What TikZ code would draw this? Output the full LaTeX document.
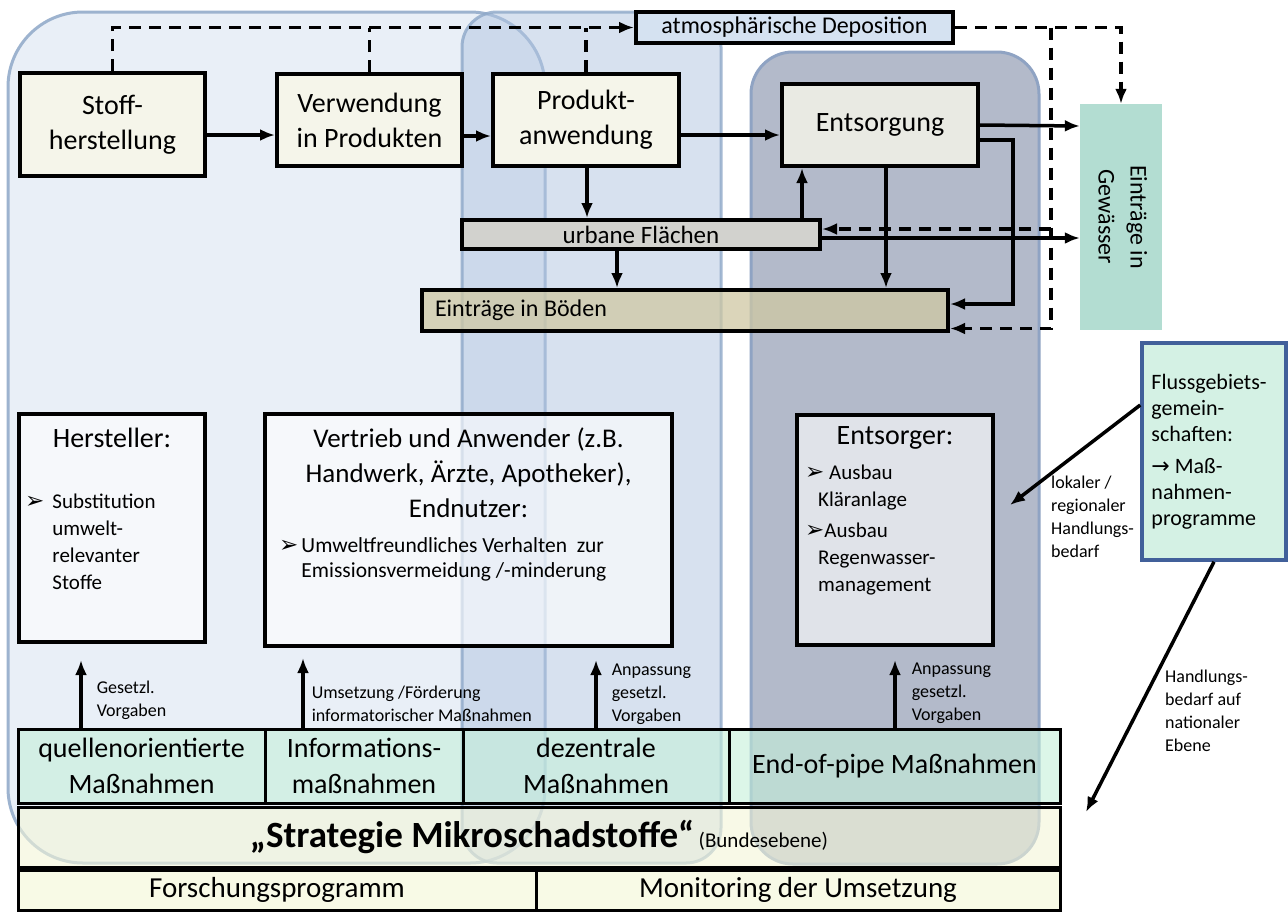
\documentclass[tikz,border=0pt]{standalone}
\usepackage{fontspec}
\usepackage{graphicx}
\setmainfont{Carlito}
\newfontfamily\symfont{DejaVu Sans}
\usetikzlibrary{arrows.meta}

\definecolor{regionleft}{HTML}{E9EFF7}
\definecolor{regionleftline}{HTML}{9DB3CF}
\definecolor{regionmid}{HTML}{B1C5E1}
\definecolor{regionmidline}{HTML}{8EA8C8}
\definecolor{regiondark}{HTML}{B3BACA}
\definecolor{regiondarkline}{HTML}{8FA3C3}
\definecolor{flowfill}{HTML}{F5F5EA}
\definecolor{disposalfill}{HTML}{E9EAE3}
\definecolor{depofill}{HTML}{D5E2F1}
\definecolor{urbanfill}{HTML}{D2D2CE}
\definecolor{soilfill}{HTML}{CFC8A3}
\definecolor{waterfill}{HTML}{B3DDD2}
\definecolor{riverfill}{HTML}{D4F1E4}
\definecolor{riverline}{HTML}{41609A}
\definecolor{measurefill}{HTML}{C5F0DA}
\definecolor{strategyfill}{HTML}{F4F6D8}
\definecolor{basefill}{HTML}{F8FAE6}

\newcommand{\arrowbullet}{{\symfont\fontsize{23}{23}\selectfont ➢}}

\tikzset{
  region/.style={line width=3pt, rounded corners=#1},
  flowbox/.style={draw, line width=4pt, fill=flowfill, align=center, inner sep=0pt, font=\fontsize{28}{35}\selectfont},
  barbox/.style={draw, line width=4pt, inner sep=0pt, font=\fontsize{24}{28}\selectfont},
  actorbox/.style={draw, line width=4pt, fill=white, fill opacity=0.6, inner sep=0pt},
  cell/.style={draw, line width=3pt, align=center, inner sep=0pt, text opacity=1, font=\fontsize{28}{36}\selectfont},
  flow/.style={line width=3.5pt, -{Latex[length=15pt,width=12pt]}},
  dashflow/.style={flow, dash pattern=on 12pt off 8pt},
  dashline/.style={line width=3.5pt, dash pattern=on 12pt off 8pt},
  smalllabel/.style={font=\fontsize{18}{23}\selectfont, align=left, inner sep=0pt},
  bullettext/.style={font=\fontsize{21}{27}\selectfont, align=left, inner sep=0pt},
  boxtitle/.style={font=\fontsize{28}{35}\selectfont, align=center, inner sep=0pt}
}

\begin{document}
\begin{tikzpicture}[x=1pt,y=-1pt]
  \fill[white] (0,0) rectangle (1288,911);
  \useasboundingbox (0,0) rectangle (1288,911);

  % background regions
  \draw[region=75pt, draw=regionleftline, fill=regionleft] (8,12) rectangle (545,863);
  \draw[region=35pt, draw=regionmidline, fill=regionmid, fill opacity=0.5, draw opacity=0.8] (462,12) rectangle (721,863);
  \draw[region=42pt, draw=regiondarkline, fill=regiondark] (751,52) rectangle (1039,864);

  % strategy rows
  \node[cell, fill=measurefill, fill opacity=0.6, minimum width=247pt, minimum height=74pt] (quell) at (141.5,766) {quellenorientierte\\Maßnahmen};
  \node[cell, fill=measurefill, fill opacity=0.6, minimum width=198pt, minimum height=74pt] (info) at (364,766) {Informations-\\maßnahmen};
  \node[cell, fill=measurefill, fill opacity=0.6, minimum width=266pt, minimum height=74pt] (dezen) at (596,766) {dezentrale\\Maßnahmen};
  \node[cell, fill=measurefill, fill opacity=0.6, minimum width=331pt, minimum height=74pt] (eop) at (894.5,766) {End-of-pipe Maßnahmen};
  \node[cell, fill=strategyfill, fill opacity=0.6, minimum width=1042pt, minimum height=60pt] (strat) at (539,837)
    {{\fontsize{37}{40}\selectfont\bfseries „Strategie Mikroschadstoffe“}\,{\fontsize{21}{24}\selectfont(Bundesebene)}};
  \node[cell, fill=basefill, minimum width=518pt, minimum height=40pt, font=\fontsize{29}{32}\selectfont] (forsch) at (277,890) {Forschungsprogramm};
  \node[cell, fill=basefill, minimum width=524pt, minimum height=40pt, font=\fontsize{29}{32}\selectfont] (monit) at (798,890) {Monitoring der Umsetzung};

  % actors
  \node[actorbox, minimum width=186pt, minimum height=228pt] (herst) at (112,528) {};
  \node[boxtitle] at ([yshift=-26pt]herst.north) {Hersteller:};
  \node[bullettext, anchor=west] at ([xshift=8pt,yshift=-16pt]herst.west)
    {\begin{tabular}{@{}l@{\hspace{8pt}}l@{}}\arrowbullet & Substitution\\ & umwelt-\\ & relevanter\\ & Stoffe\end{tabular}};

  \node[actorbox, minimum width=407pt, minimum height=232pt] (vertr) at (468.5,530) {};
  \node[boxtitle, font=\fontsize{27}{35}\selectfont] at ([yshift=-61pt]vertr.north) {Vertrieb und Anwender (z.B.\\Handwerk, Ärzte, Apotheker),\\Endnutzer:};
  \node[bullettext, anchor=west, font=\fontsize{21.5}{25}\selectfont] at ([xshift=16pt,yshift=-29.5pt]vertr.west)
    {\begin{tabular}{@{}l@{\hspace{3pt}}l@{}}\arrowbullet & Umweltfreundliches Verhalten~ zur\\ & Emissionsvermeidung /-minderung\end{tabular}};

  \node[actorbox, minimum width=196pt, minimum height=230pt] (entsorger) at (895,530) {};
  \node[boxtitle] at ([yshift=-25pt]entsorger.north) {Entsorger:};
  \node[bullettext, anchor=west] at ([xshift=10pt,yshift=-0.5pt]entsorger.west)
    {\arrowbullet\ Ausbau\\\hspace*{13pt}Kläranlage\\[4pt]\arrowbullet Ausbau\\\hspace*{13pt}Regenwasser-\\\hspace*{13pt}management};

  \node[draw=riverline, line width=3.5pt, fill=riverfill, minimum width=144pt, minimum height=217pt, inner sep=0pt] (fluss) at (1214,451.5) {};
  \node[bullettext, anchor=west, font=\fontsize{22}{26}\selectfont] at ([xshift=11pt]fluss.west)
    {Flussgebiets-\\gemein-\\schaften:\\[6pt]{\symfont →} Maß-\\nahmen-\\programme};

  % material flow
  \node[flowbox, minimum width=185pt, minimum height=103pt] (stoff) at (112.5,124.5) {Stoff-\\herstellung};
  \node[flowbox, minimum width=185pt, minimum height=92pt] (verw) at (369.5,120) {Verwendung\\in Produkten};
  \node[flowbox, minimum width=186pt, minimum height=92pt] (prod) at (586,120) {Produkt-\\anwendung};
  \node[flowbox, fill=disposalfill, minimum width=196pt, minimum height=82pt] (entsorg) at (880,125) {Entsorgung};
  \node[barbox, fill=depofill, minimum width=317pt, minimum height=31pt] (depo) at (794.5,27.5) {atmosphärische Deposition};
  \node[barbox, fill=urbanfill, minimum width=358pt, minimum height=29pt, font=\fontsize{25}{28}\selectfont] (urban) at (641,234.5) {urbane Flächen};
  \node[barbox, fill=soilfill, fill opacity=0.75, text opacity=1, minimum width=526pt, minimum height=41pt] (boeden) at (685,310.5)
    {\makebox[500pt][l]{Einträge in Böden}};
  \node[fill=waterfill, minimum width=82pt, minimum height=226pt, inner sep=0pt, font=\fontsize{24}{32}\selectfont] (gewaesser) at (1121,217)
    {\rotatebox{-90}{\begin{tabular}{@{}c@{}}Einträge in\\Gewässer\end{tabular}}};

  \draw[flow] ([yshift=-10.5pt]stoff.east) -- ([yshift=-15pt]verw.west);
  \draw[flow] ([yshift=-16pt]verw.east) -- ([yshift=-16pt]prod.west);
  \draw[flow] ([yshift=-15pt]prod.east) -- ([yshift=-10pt]entsorg.west);
  \draw[flow] (entsorg.east) -- ([yshift=91pt]gewaesser.west);
  \draw[flow] ([yshift=-15pt]entsorg.east) -- ++(33,0) |- ([yshift=6.5pt]boeden.east);
  \draw[flow] ([xshift=6pt]entsorg.south) -- ([xshift=201pt]boeden.north);
  \draw[flow] ([xshift=161pt]urban.north) -- ([xshift=-78pt]entsorg.south);
  \draw[flow] ([yshift=-3.5pt]urban.east) -- ([yshift=-21pt]gewaesser.west);
  \draw[flow] ([xshift=1pt]prod.south) -- ([xshift=-54pt]urban.north);
  \draw[flow] ([xshift=-24pt]urban.south) -- ([xshift=-68pt]boeden.north);

  % atmospheric deposition
  \draw[dashflow] (stoff.north) |- (depo.west);
  \draw[dashline] (verw.north) -- (verw.north |- depo.west);
  \draw[dashline] (prod.north) -- (prod.north |- depo.west);
  \draw[dashflow] (depo.east) -| (gewaesser.north);
  \draw[dashflow] ([xshift=96pt]depo.east) |- ([yshift=-18pt]boeden.east);
  \draw[dashflow] ([xshift=229pt,yshift=5.5pt]urban.east) -- ([yshift=5.5pt]urban.east);

  % measures
  \draw[flow, shorten >=16pt] ([xshift=-60.5pt]quell.north) -- ([xshift=-31pt]herst.south)
    node[smalllabel, pos=0.33, anchor=west, xshift=14pt] {Gesetzl.\\Vorgaben};
  \draw[flow, shorten >=10pt] ([xshift=-61pt]info.north) -- ([xshift=-165.5pt]vertr.south)
    node[smalllabel, pos=0.3, anchor=west, xshift=7pt] {Umsetzung /Förderung\\informatorischer Maßnahmen};
  \draw[flow, shorten >=12pt] (dezen.north) -- ([xshift=127.5pt]vertr.south)
    node[smalllabel, pos=0.42, anchor=west, xshift=14pt] {Anpassung\\gesetzl.\\Vorgaben};
  \draw[flow, shorten >=13pt] ([xshift=0.5pt]eop.north) -- (entsorger.south)
    node[smalllabel, pos=0.42, anchor=west, xshift=15pt] {Anpassung\\gesetzl.\\Vorgaben};

  % river basin communities
  \coordinate (lokal) at (1010,505);
  \coordinate (national) at (1086,812);
  \draw[flow] ([yshift=46.5pt]fluss.west) -- (lokal);
  \draw[flow] (fluss.south) -- (national);
  \node[smalllabel, anchor=west] (lokallabel) at (1051,517) {lokaler /\\regionaler\\Handlungs-\\bedarf};
  \node[smalllabel, anchor=west] (nationallabel) at (1165,711) {Handlungs-\\bedarf auf\\nationaler\\Ebene};
\end{tikzpicture}
\end{document}
